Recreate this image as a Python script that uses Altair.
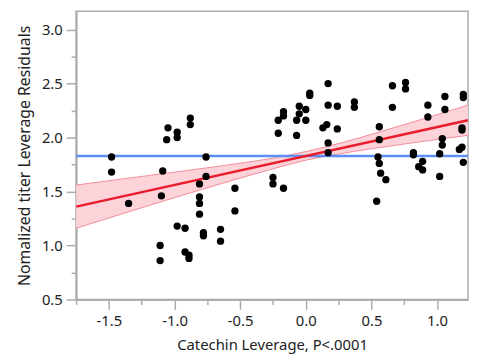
import altair as alt
import pandas as pd

# ---- data ----
pt_x = [-1.48, -1.48, -1.35, -1.09, -1.10, -1.05, -1.06, -0.98, -0.98, -0.88,
        -0.88, -0.76, -0.76, -0.81, -0.81, -0.81, -0.81, -0.98, -0.92, -0.78,
        -0.78, -1.11, -1.11, -0.92, -0.89, -0.89, -0.65, -0.65, -0.54, -0.54,
        -0.25, -0.25, -0.17, -0.21, -0.21, -0.17, -0.17, -0.07, -0.07, -0.05,
        -0.05, 0.00, 0.00, 0.03, 0.03, 0.17, 0.17, 0.24, 0.16, 0.24,
        0.13, 0.17, 0.17, 0.37, 0.37, 0.66, 0.66, 0.76, 0.76, 0.56,
        0.56, 0.55, 0.56, 0.57, 0.61, 0.54, 0.82, 0.82, 0.89, 0.86,
        0.89, 0.93, 0.93, 1.06, 1.06, 1.04, 1.04, 1.02, 1.02, 1.20,
        1.20, 1.19, 1.19, 1.19, 1.17, 1.20]
pt_y = [1.82, 1.68, 1.39, 1.69, 1.46, 2.09, 1.98, 2.05, 2.00, 2.18,
        2.12, 1.82, 1.64, 1.57, 1.45, 1.39, 1.29, 1.18, 1.16, 1.12,
        1.09, 1.00, 0.86, 0.94, 0.91, 0.88, 1.15, 1.04, 1.53, 1.32,
        1.63, 1.57, 1.53, 2.04, 2.16, 2.24, 2.20, 2.16, 2.02, 2.29,
        2.22, 2.26, 2.16, 2.41, 2.39, 2.50, 2.30, 2.29, 2.12, 2.08,
        2.09, 1.95, 1.86, 2.33, 2.28, 2.48, 2.28, 2.51, 2.45, 2.10,
        1.98, 1.82, 1.76, 1.67, 1.61, 1.41, 1.86, 1.84, 1.78, 1.73,
        1.70, 2.30, 2.19, 2.38, 2.26, 1.99, 1.93, 1.85, 1.64, 2.40,
        2.37, 2.09, 2.07, 1.91, 1.89, 1.77]

mean_y = [1.828]

fit_x = [-1.75, 1.236]
fit_y = [1.36, 2.16]

band_x = [-1.75, -1.25, -0.75, -0.25, 0.0, 0.25, 0.75, 1.236]
band_lo = [1.16, 1.35, 1.535, 1.71, 1.79, 1.847, 1.94, 2.02]
band_hi = [1.56, 1.64, 1.72, 1.81, 1.87, 1.945, 2.12, 2.30]

x_major = [-1.5, -1.0, -0.5, 0.0, 0.5, 1.0]
x_minor = [-1.75, -1.25, -0.75, -0.25, 0.25, 0.75]
y_major = [0.5, 1.0, 1.5, 2.0, 2.5, 3.0]
y_minor = [0.75, 1.25, 1.75, 2.25, 2.75]

x_title = "Catechin Leverage, P<.0001"
y_title = "Nomalized titer Leverage Residuals"

# ---- tables ----
pts = pd.DataFrame({"x": pt_x, "y": pt_y})
band = pd.DataFrame({"x": band_x, "lo": band_lo, "hi": band_hi})
fit = pd.DataFrame({"x": fit_x, "y": fit_y})
mean = pd.DataFrame({"m": mean_y})

FONT = "Noto Sans"
GRAY = "#ababab"
TXT = "#222222"
LABEL_EXPR = "(datum.value < 0 ? '-' : '') + format(abs(datum.value), '.1f')"

xs = alt.Scale(domain=[-1.75, 1.236], nice=False, zero=False)
ys = alt.Scale(domain=[0.5, 3.17], nice=False, zero=False)

common = dict(domainColor=GRAY, tickColor=GRAY, grid=False, domainWidth=1.5, tickWidth=1.5)

x_major_axis = alt.Axis(values=x_major, labelExpr=LABEL_EXPR, orient="bottom", tickSize=10,
                        labelPadding=4, labelFontSize=15, labelColor=TXT, labelFont=FONT,
                        title=x_title, titleFont=FONT, titleFontSize=15,
                        titleFontWeight="normal", titleColor=TXT, titlePadding=10,
                        **common)
x_minor_axis = alt.Axis(values=x_minor, orient="bottom", tickSize=5, labels=False,
                        title=None, **common)
y_major_axis = alt.Axis(values=y_major, labelExpr=LABEL_EXPR, orient="left", tickSize=10,
                        labelPadding=4, labelFontSize=15, labelColor=TXT, labelFont=FONT,
                        title=y_title, titleFont=FONT, titleFontSize=16,
                        titleFontWeight="normal", titleColor=TXT, titlePadding=9,
                        **common)
y_minor_axis = alt.Axis(values=y_minor, orient="left", tickSize=5, labels=False,
                        title=None, **common)

band_area = alt.Chart(band).mark_area(color="#fbd3d9", opacity=1, interpolate="monotone", clip=True).encode(
    x=alt.X("x:Q", scale=xs, axis=x_minor_axis),
    y=alt.Y("lo:Q", scale=ys, axis=y_minor_axis),
    y2="hi:Q",
)
band_hi_line = alt.Chart(band).mark_line(color="#f38b99", strokeWidth=1, interpolate="monotone", clip=True).encode(
    x=alt.X("x:Q", scale=xs, axis=None),
    y=alt.Y("hi:Q", scale=ys, axis=None),
)
band_lo_line = alt.Chart(band).mark_line(color="#f38b99", strokeWidth=1, interpolate="monotone", clip=True).encode(
    x=alt.X("x:Q", scale=xs, axis=None),
    y=alt.Y("lo:Q", scale=ys, axis=None),
)
mean_rule = alt.Chart(mean).mark_rule(color="#5d8ff3", strokeWidth=2.5).encode(
    y=alt.Y("m:Q", scale=ys, axis=None),
)
fit_line = alt.Chart(fit).mark_line(color="#ea1b2c", strokeWidth=2.5, clip=True).encode(
    x=alt.X("x:Q", scale=xs, axis=None),
    y=alt.Y("y:Q", scale=ys, axis=None),
)
points = alt.Chart(pts).mark_circle(color="black", size=55, opacity=1).encode(
    x=alt.X("x:Q", scale=xs, axis=x_major_axis),
    y=alt.Y("y:Q", scale=ys, axis=y_major_axis),
)

chart = alt.layer(
    band_area, band_hi_line, band_lo_line, mean_rule, fit_line, points
).resolve_axis(x="independent", y="independent").properties(
    width=397,
    height=292,
    autosize=alt.AutoSizeParams(type="none"),
    padding={"left": 69, "top": 1, "right": 2, "bottom": 56},
    background="white",
).configure_view(stroke=GRAY, strokeWidth=1.5)

chart.save("out.html", embed_options={"renderer": "svg", "actions": False})
